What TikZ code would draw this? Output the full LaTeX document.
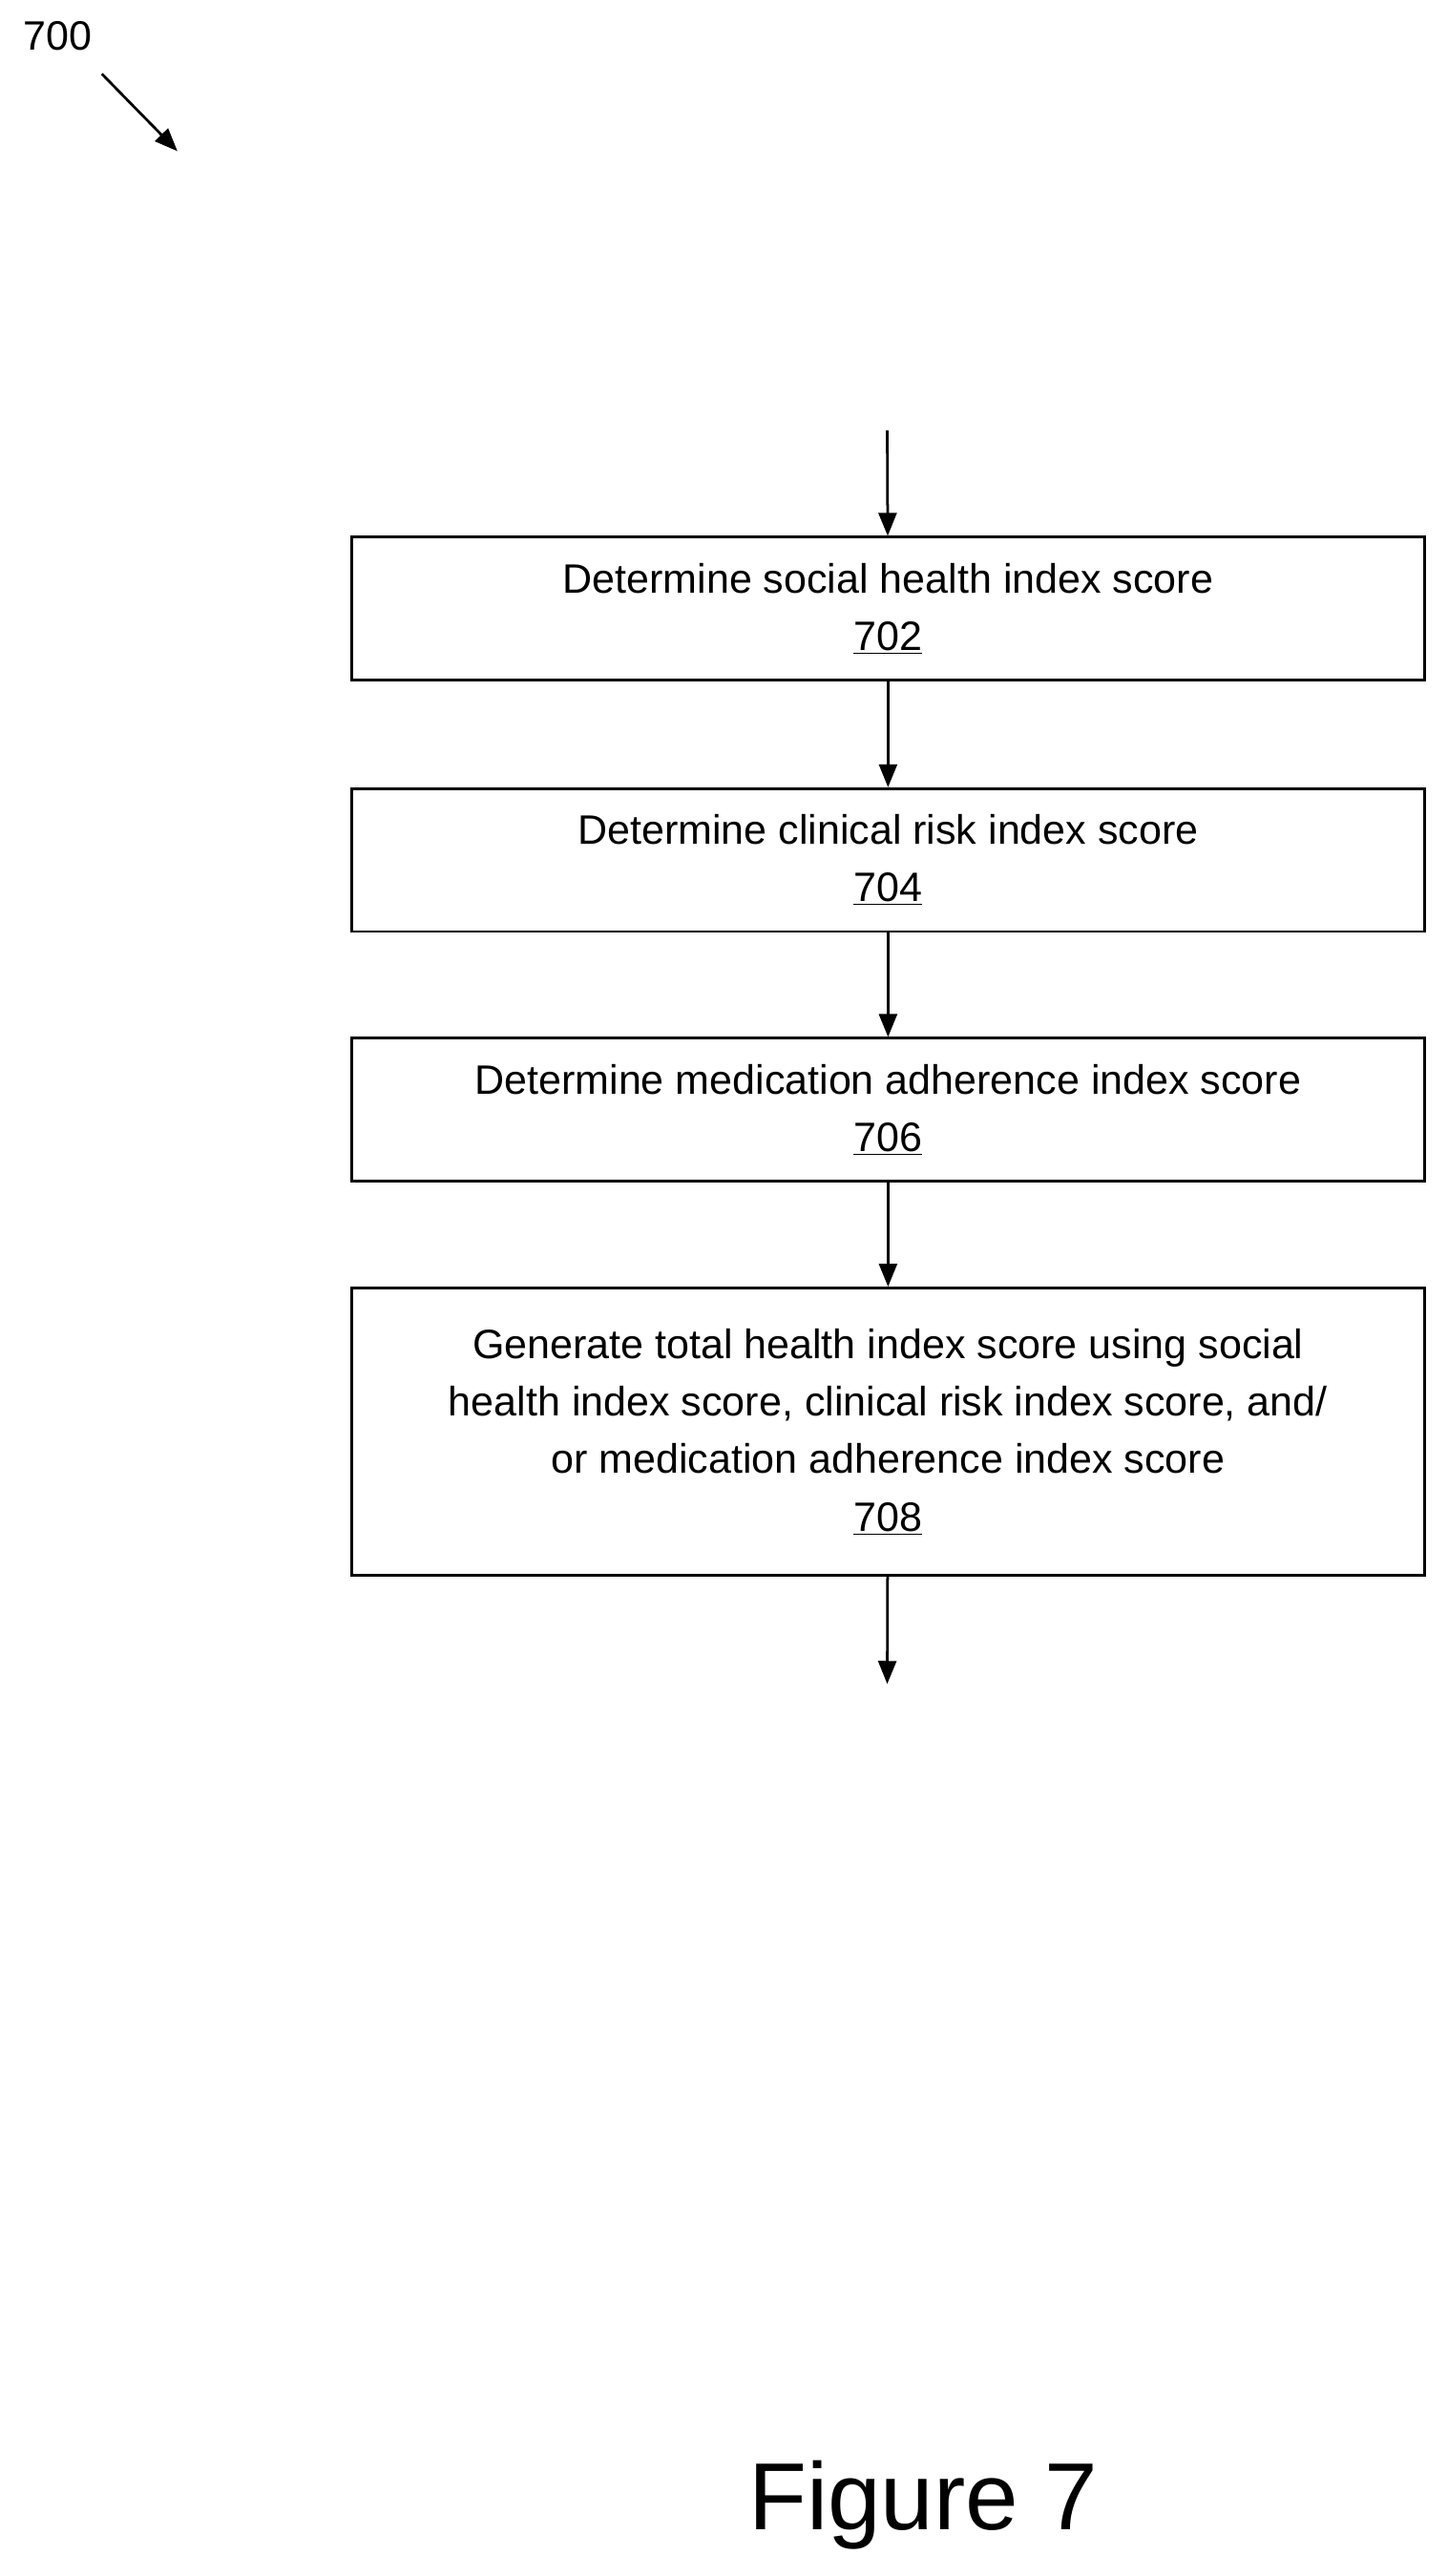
\documentclass[tikz,border=0pt]{standalone}
\usepackage{fontspec}
\setmainfont{Liberation Sans}
\usetikzlibrary{arrows.meta,positioning}
\tikzset{
    stepbox/.style={draw, line width=1.6pt, minimum width=653pt, align=center,
        font=\fontsize{25}{35}\selectfont},
    flow/.style={-{Triangle[length=14pt,width=11pt]}, line width=1.6pt}
}
\begin{document}
\begin{tikzpicture}[x=1pt,y=-1pt]
    \useasboundingbox (0,0) rectangle (881,1568);
    \node[font=\fontsize{25}{30}\selectfont] (fig) at (35,22) {700};
    \coordinate (figa) at (62,45);
    \coordinate (figb) at (108,92);
    \draw[flow] (figa) -- (figb);

    \node[stepbox, minimum height=87pt] (s702) at (540.5,370.5) {Determine social health index score\\\underline{702}};
    \node[stepbox, minimum height=87pt] (s704) at (540.5,523.5) {Determine clinical risk index score\\\underline{704}};
    \node[stepbox, minimum height=87pt] (s706) at (540.5,675.5) {Determine medication adherence index score\\\underline{706}};
    \node[stepbox, minimum height=175pt] (s708) at (540.5,871.5) {Generate total health index score using social\\health index score, clinical risk index score, and/\\or medication adherence index score\\\underline{708}};

    \coordinate (start) at (540,262);
    \coordinate (stop) at (540,1025);
    \draw[flow] (start) -- (s702);
    \draw[flow] (s702) -- (s704);
    \draw[flow] (s704) -- (s706);
    \draw[flow] (s706) -- (s708);
    \draw[flow] (s708) -- (stop);

    \node[font=\fontsize{58}{60}\selectfont] (title) at (562,1525) {Figure 7};
\end{tikzpicture}
\end{document}
